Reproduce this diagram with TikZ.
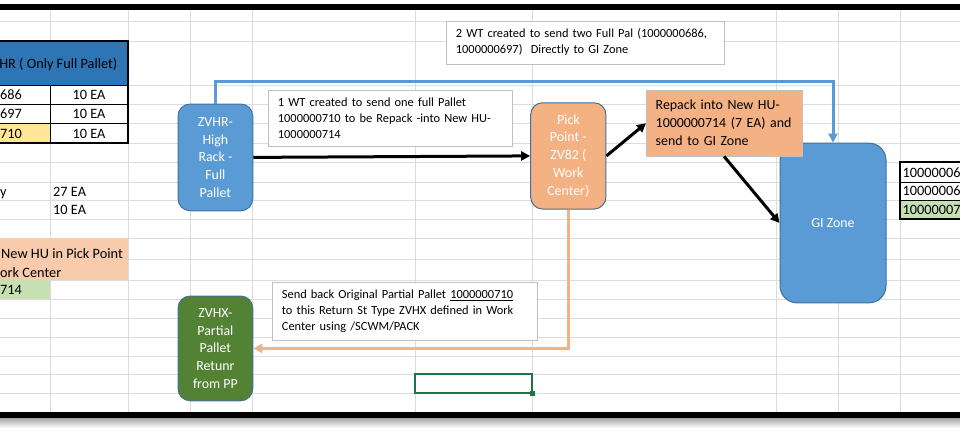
\documentclass[tikz,border=0pt]{standalone}
\usepackage{fontspec}
\setmainfont{Carlito}
\usetikzlibrary{arrows.meta}
\definecolor{zoneblue}{HTML}{5B9BD5}
\definecolor{edgeblue}{HTML}{41719C}
\definecolor{pickorange}{HTML}{F4B183}
\definecolor{returngreen}{HTML}{548235}
\definecolor{headblue}{HTML}{2E75B6}
\definecolor{cellyellow}{HTML}{FFE699}
\definecolor{cellorange}{HTML}{F8CBAD}
\definecolor{cellgreen}{HTML}{C6E0B4}
\definecolor{gridgrey}{HTML}{DCDCDC}
\definecolor{notegrey}{HTML}{BFBFBF}
\definecolor{selgreen}{HTML}{217346}

\begin{document}
\begin{tikzpicture}[x=1pt, y=-1pt, inner sep=0pt,
	cell/.style={font=\fontsize{14.3}{17}\selectfont},
	area/.style={draw=edgeblue, line width=1pt, rounded corners=12pt, text=white, align=center,
		font=\fontsize{13.9}{17.8}\selectfont},
	note/.style={draw=notegrey, fill=white, anchor=north west, align=left, inner xsep=10pt,
		inner ysep=7.9pt, font=\fontsize{12.4}{16}\selectfont},
	flow/.style={line width=3pt, -{Triangle[length=9pt,width=9pt]}}]
	\fill[white] (0,0) rectangle (960,431);
	\useasboundingbox (0,0) rectangle (960,431);
	% sheet grid
	\foreach \gx in {50,128,190,252,415,532,776,838,900}
		\draw[gridgrey, line width=1pt] (\gx,10) -- (\gx,412);
	\foreach \gy in {21,41,85,104,123,143,162,182,200,219,238,259,280,299,318,337,356,374,393}
		\draw[gridgrey, line width=1pt] (0,\gy) -- (960,\gy);
	% left table
	\fill[headblue] (0,41) rectangle (128,85);
	\fill[cellyellow] (0,123) rectangle (50,143);
	\fill[cellorange] (0,238) rectangle (128,280);
	\fill[cellgreen] (0,280) rectangle (50,299);
	\draw[line width=1.3pt] (0,41) -- (128,41) -- (128,143) -- (0,143);
	\draw[line width=1pt] (0,85) -- (128,85) (0,104) -- (128,104) (0,123) -- (128,123) (50,85) -- (50,143);
	\node[cell, anchor=base east] (head) at (117.5,68) {HR ( Only Full Pallet)};
	\node[cell, anchor=base west] (hu686) at (0,99.5) {686};
	\node[cell, anchor=base] (qty686) at (89,99.5) {10 EA};
	\node[cell, anchor=base west] (hu697) at (0,118.5) {697};
	\node[cell, anchor=base] (qty697) at (89,118.5) {10 EA};
	\node[cell, anchor=base west] (hu710) at (0,138) {710};
	\node[cell, anchor=base] (qty710) at (89,138) {10 EA};
	\node[cell, anchor=base west] (sumlabel) at (0,196.5) {y};
	\node[cell, anchor=base west] (sumqty) at (53,196.5) {27 EA};
	\node[cell, anchor=base west] (restqty) at (53,214.5) {10 EA};
	\node[cell, anchor=base west] (newhu1) at (1,258) {New HU in Pick Point};
	\node[cell, anchor=base west] (newhu2) at (0,277) {ork Center};
	\node[cell, anchor=base west] (hu714) at (0,294.5) {714};
	% right table
	\fill[cellgreen] (900,200) rectangle (960,219);
	\draw[line width=1.3pt] (960,162) -- (900,162) -- (900,219) -- (960,219);
	\draw[line width=1pt] (900,182) -- (960,182) (900,200) -- (960,200);
	\node[cell, anchor=base west] (gi686) at (902.5,177) {10000006};
	\node[cell, anchor=base west] (gi697) at (902.5,195.5) {10000006};
	\node[cell, anchor=base west] (gi714) at (902.5,214.5) {10000007};
	% selected cell
	\draw[selgreen, line width=2pt] (415,374) rectangle (532,393);
	\fill[selgreen] (530,391) rectangle (535,396);
	% storage areas
	\node[area, fill=zoneblue, minimum width=74.7, minimum height=106.7] (zvhr) at (215.4,157.4)
		{ZVHR-\\High\\Rack -\\Full\\Pallet};
	\node[area, fill=pickorange, minimum width=75.3, minimum height=106.3] (pick) at (568.3,155.9)
		{Pick\\Point -\\ZV82 (\\Work\\Center)};
	\node[area, fill=zoneblue, rounded corners=17pt, minimum width=106, minimum height=159.7] (gizone) at (833,223)
		{GI Zone};
	\node[area, fill=returngreen, minimum width=74.7, minimum height=104.7] (zvhx) at (215.4,348.4)
		{ZVHX-\\Partial\\Pallet\\Retunr\\from PP};
	\node[draw=notegrey, fill=pickorange, anchor=north west, align=left, inner xsep=9.5pt,
		text width=136.7, minimum height=66, font=\fontsize{13.9}{18}\selectfont] (repack) at (646,90)
		{Repack into New HU-\\1000000714 (7 EA) and\\send to GI Zone};
	% notes
	\node[note, text width=223.8] (wtone) at (267.7,90)
		{1 WT created to send one full Pallet\\1000000710 to be Repack -into New HU-\\1000000714\par\vspace*{4.5pt}};
	\node[note, text width=258.3] (wttwo) at (445.7,20.7)
		{2 WT created to send two Full Pal (1000000686,\\1000000697)\ \ Directly to GI Zone\par\vspace*{12pt}};
	\node[note, text width=245] (sendback) at (271.7,281.7)
		{Send back Original Partial Pallet \underline{1000000710}\\to this Return St Type ZVHX defined in Work\\Center using /SCWM/PACK\par\vspace*{1pt}};
	% flows
	\coordinate (overrun) at (0,81.5);
	\draw[flow, zoneblue] (zvhr.north) -- (zvhr.north |- overrun) -- (gizone.north |- overrun) -- (gizone.north);
	\draw[flow] (zvhr.east) -- (pick.west);
	\draw[flow] (pick.east) -- (repack.west);
	\draw[flow] (repack.south) -- (gizone.west);
	\draw[flow, pickorange] (pick.south) |- (zvhx.east);
	% screenshot frame
	\fill[black] (0,4) rectangle (960,10);
	\fill[black] (0,412) rectangle (960,418);
	\shade[top color=gray!70, bottom color=white] (0,418) rectangle (960,428);
\end{tikzpicture}
\end{document}
